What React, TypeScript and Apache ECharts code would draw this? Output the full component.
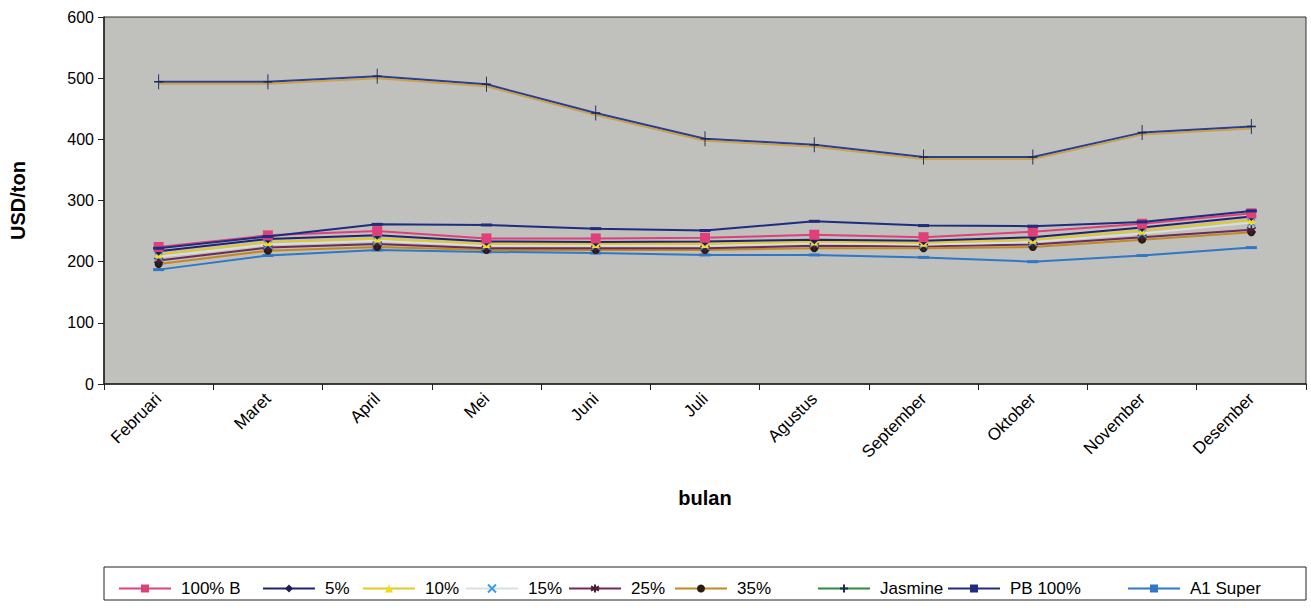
import React, { useEffect, useRef } from "react";
import * as echarts from "echarts";

const categories = ["Februari", "Maret", "April", "Mei", "Juni", "Juli", "Agustus", "September", "Oktober", "November", "Desember"];
const yTicks = [0, 100, 200, 300, 400, 500, 600];

const b100 = [224, 243, 250, 238, 238, 239, 244, 240, 249, 262, 279];
const p5 = [217, 237, 243, 233, 232, 233, 236, 234, 240, 256, 274];
const p10 = [212, 232, 238, 229, 229, 229, 233, 231, 236, 251, 268];
const p15 = [208, 228, 234, 226, 226, 226, 230, 228, 232, 246, 264];
const p25 = [202, 223, 229, 222, 222, 222, 226, 225, 228, 240, 252];
const p35 = [196, 218, 224, 219, 219, 219, 222, 222, 224, 236, 248];
const jasmine = [494, 494, 503, 490, 443, 401, 391, 371, 371, 411, 421];
const pb100 = [222, 241, 261, 260, 254, 251, 266, 259, 258, 265, 283];
const a1Super = [187, 210, 219, 216, 214, 211, 211, 207, 200, 210, 223];

const seriesNames = ["100% B", "5%", "10%", "15%", "25%", "35%", "Jasmine", "PB 100%", "A1 Super"];

export default function App() {
  const ref = useRef<HTMLDivElement>(null);
  useEffect(() => {
    if (!ref.current) return;
    const chart = echarts.init(ref.current, null, { renderer: "svg" });
    const font = "'Liberation Sans', Arial, sans-serif";
    const mk = (name: string, data: number[], color: string, symbol: string, symbolSize: any, markColor: string, extra: any = {}) => ({
      name,
      type: "line",
      data,
      symbol,
      symbolSize,
      showSymbol: true,
      lineStyle: { color, width: 2, ...(extra.lineStyle || {}) },
      itemStyle: { color: markColor, borderColor: markColor, borderWidth: extra.borderWidth ?? 0 },
      z: extra.z ?? 2,
    });
    const series = [
      mk("A1 Super", a1Super, "#2f78c8", "rect", [11, 3], "#2f78c8"),
      mk("35%", p35, "#c08a1e", "circle", 8, "#2a1a14"),
      mk("25%", p25, "#6b2b5e", "path://M5,0L5,10M0,2.5L10,7.5M0,7.5L10,2.5", 9, "#4a1e3a", { borderWidth: 1.5 }),
      mk("15%", p15, "#d8dfe0", "path://M0,0L10,10M10,0L0,10", 8, "#3a9ee0", { borderWidth: 1.5 }),
      mk("10%", p10, "#e2c92a", "triangle", 8, "#f2dc1a"),
      mk("5%", p5, "#1e2470", "diamond", 9, "#1a1f5a"),
      mk("100% B", b100, "#e0407a", "rect", 10, "#e0407a"),
      mk("PB 100%", pb100, "#1f2d80", "rect", [11, 3], "#1f2d80", { z: 3 }),
      {
        ...mk("Jasmine", jasmine, "#2a3f8f", "path://M5,0L5,20M0,10L10,10", [9, 15], "#1a2a5a", { borderWidth: 1.2, z: 4 }),
        lineStyle: { color: "#2a3f8f", width: 2, shadowColor: "#c9a24a", shadowOffsetY: 2, shadowBlur: 0 },
      },
    ];
    const textStarts = [181, 325, 425, 528, 631, 737, 880, 1010, 1190];
    const legends = seriesNames.map((n, i) => ({
      show: true,
      left: textStarts[i] - 68,
      top: 575,
      orient: "horizontal",
      itemWidth: 52,
      itemHeight: 10,
      selectedMode: false,
      data: n === "Jasmine" ? [{ name: n, lineStyle: { color: "#2e8a3a" } }] : [n],
      textStyle: { fontFamily: font, fontSize: 17, color: "#000", padding: [0, 0, 0, 5] },
    }));
    chart.setOption({
      animation: false,
      backgroundColor: "#ffffff",
      grid: { left: 104, right: 5, top: 17, bottom: 224, show: true, backgroundColor: "#c0c0bd", borderColor: "#333", borderWidth: 1 },
      legend: legends,
      graphic: [
        { type: "rect", shape: { x: 104, y: 567, width: 1202, height: 33 }, style: { fill: "none", stroke: "#222", lineWidth: 1 } },
      ],
      xAxis: {
        type: "category",
        data: categories,
        boundaryGap: true,
        name: "bulan",
        nameLocation: "middle",
        nameGap: 104,
        nameTextStyle: { fontFamily: font, fontSize: 20, fontWeight: "bold", color: "#000" },
        axisLine: { show: true, lineStyle: { color: "#222", width: 1.5 } },
        axisTick: { show: true, interval: 0, length: 6, lineStyle: { color: "#222" } },
        axisLabel: { interval: 0, rotate: 45, fontFamily: font, fontSize: 17, color: "#000", margin: 12 },
        splitLine: { show: false },
      },
      yAxis: {
        type: "value",
        min: yTicks[0],
        max: yTicks[yTicks.length - 1],
        interval: 100,
        name: "USD/ton",
        nameLocation: "middle",
        nameRotate: 90,
        nameGap: 76,
        nameTextStyle: { fontFamily: font, fontSize: 20, fontWeight: "bold", color: "#000" },
        axisLine: { show: true, lineStyle: { color: "#222", width: 1.5 } },
        axisTick: { show: true, length: 6, lineStyle: { color: "#222" } },
        axisLabel: { fontFamily: font, fontSize: 16, color: "#000", margin: 10 },
        splitLine: { show: false },
      },
      series,
    });
    return () => chart.dispose();
  }, []);
  return <div ref={ref} style={{ position: "fixed", left: 0, top: 0, width: 1311, height: 608 }} />;
}
